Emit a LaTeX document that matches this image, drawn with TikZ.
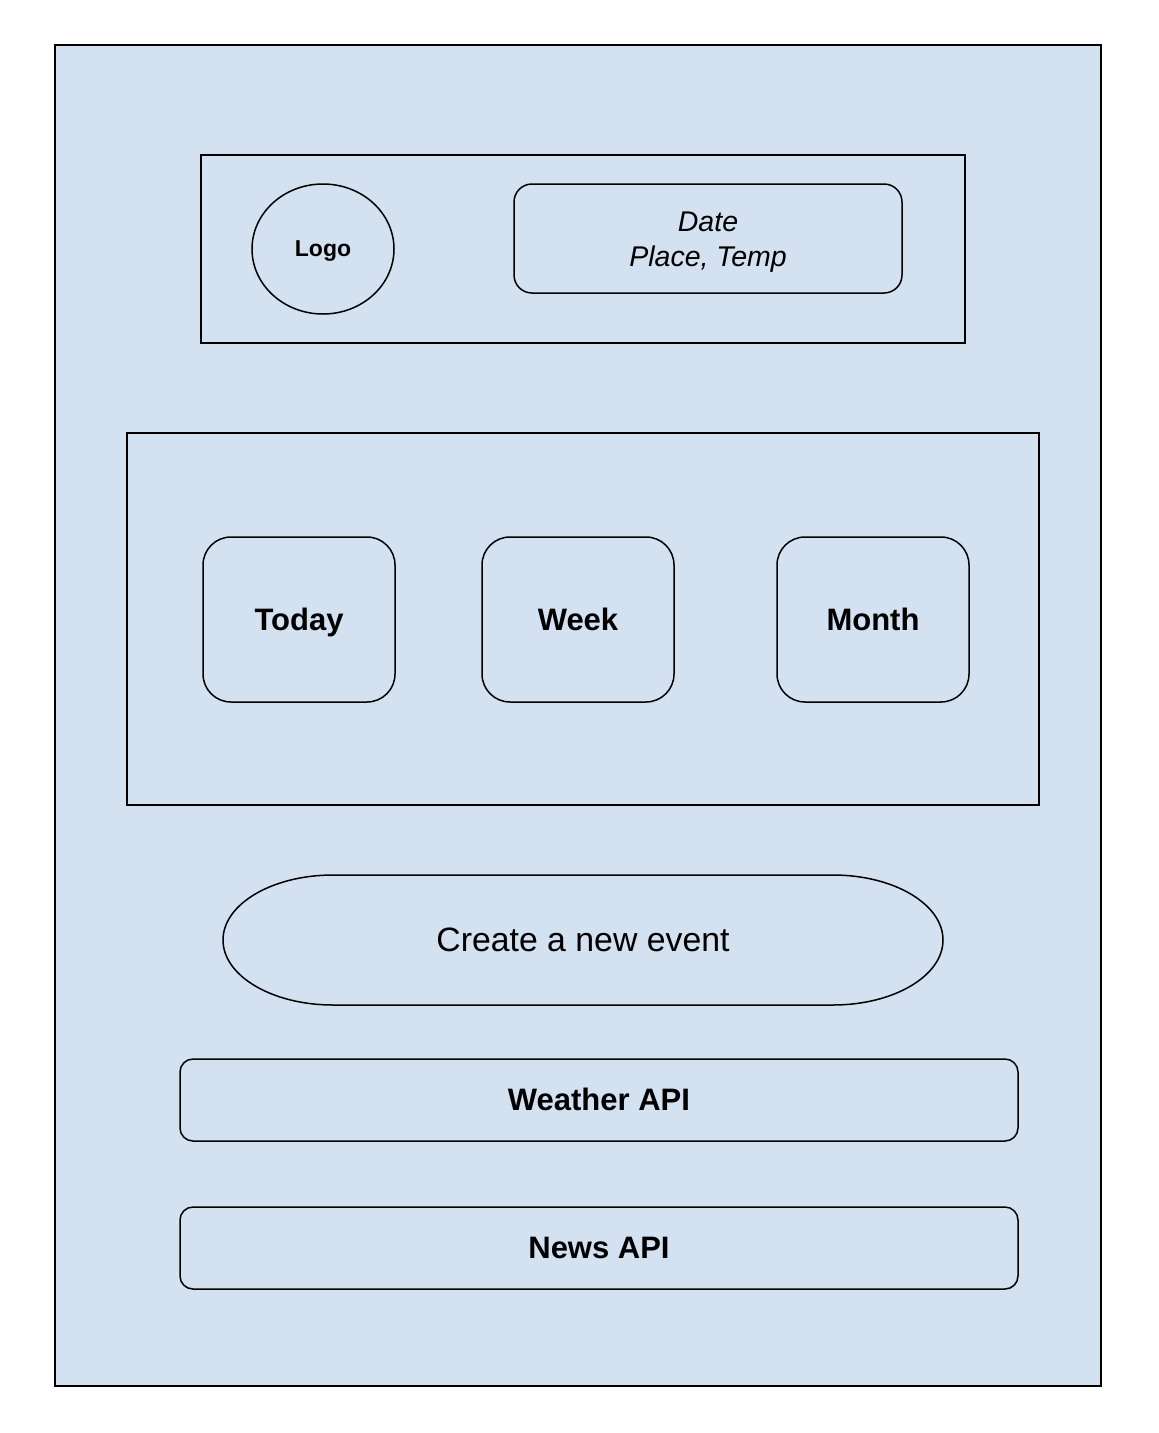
\documentclass[tikz,border=0pt]{standalone}
\usepackage{fontspec}
\setmainfont{Liberation Sans}
\usetikzlibrary{shapes.geometric}
\definecolor{panel}{RGB}{212,225,240}
\tikzset{
  box/.style={draw=black, line width=1.5pt, fill=panel, inner sep=0pt},
  rbox/.style={box, rounded corners=#1},
  lbl/.style={font=\fontsize{31}{37}\selectfont\bfseries, text=black, text height=28.06pt, text depth=6.57pt},
}
\begin{document}
\begin{tikzpicture}[x=1pt,y=1pt]
\useasboundingbox (0,0) rectangle (1159,-1433);
\fill[white] (0,0) rectangle (1159,-1433);
% outer panel
\node[box, line width=2pt, minimum width=1046pt, minimum height=1341pt] (outer) at (578,-715.5) {};
% header
\node[box, minimum width=764pt, minimum height=188pt] (header) at (583,-249) {};
\node[box, ellipse, minimum width=142pt, minimum height=130pt, font=\fontsize{23}{28}\selectfont\bfseries, text height=20.8pt, text depth=4.9pt] (logo) at (323,-249) {Logo};
\node[rbox=18pt, minimum width=388pt, minimum height=109pt] (date) at (708,-238.5) {};
\node[align=center, inner sep=0pt, font=\fontsize{28.5}{35}\selectfont\itshape] (datetext) at ([yshift=-4pt]date.center) {Date\\Place, Temp};
% middle
\node[box, minimum width=912pt, minimum height=372pt] (middle) at (583,-619) {};
\node[rbox=28pt, lbl, minimum width=192pt, minimum height=165pt] (today) at (299,-619.5) {Today};
\node[rbox=28pt, lbl, minimum width=192pt, minimum height=165pt] (week) at (578,-619.5) {Week};
\node[rbox=28pt, lbl, minimum width=192pt, minimum height=165pt] (month) at (873,-619.5) {Month};
% event
\node[inner sep=0pt, outer sep=0pt, minimum width=720pt, minimum height=130pt] (event) at (583,-940) {};
\draw[line width=1.5pt, fill=panel]
  ([xshift=110pt]event.north west) -- ([xshift=-110pt]event.north east)
  arc[start angle=90, end angle=-90, x radius=110pt, y radius=65pt]
  -- ([xshift=110pt]event.south west)
  arc[start angle=270, end angle=90, x radius=110pt, y radius=65pt] -- cycle;
\node[font=\fontsize{33.8}{40}\selectfont, text height=30.6pt, text depth=7.2pt, inner sep=0pt] (eventtext) at (event.center) {Create a new event};
% APIs
\node[rbox=13pt, lbl, minimum width=838pt, minimum height=82pt] (weather) at (599,-1100) {Weather API};
\node[rbox=13pt, lbl, minimum width=838pt, minimum height=82pt] (news) at (599,-1248) {News API};
\end{tikzpicture}
\end{document}
